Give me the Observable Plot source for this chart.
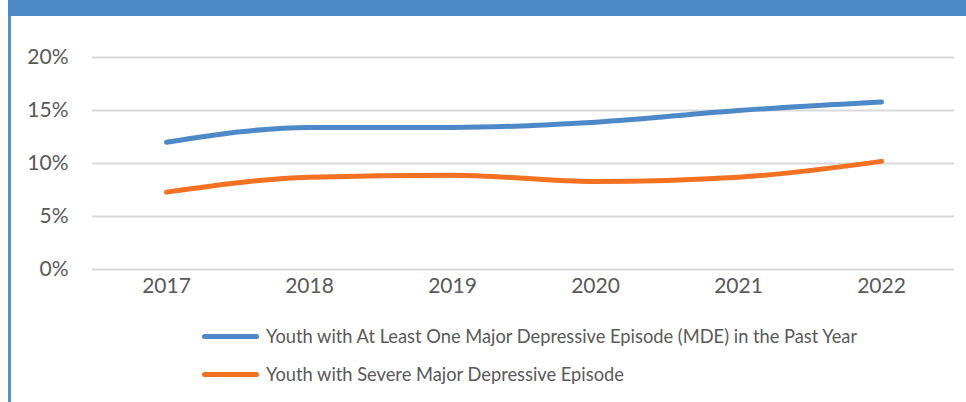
<!DOCTYPE html>
<html>
<head>
<meta charset="utf-8">
<script src="https://cdn.jsdelivr.net/npm/d3@7"></script>
<script src="https://cdn.jsdelivr.net/npm/@observablehq/plot@0.6"></script>
<style>
  html, body { margin: 0; padding: 0; background: #fff; }
  #wrap { position: relative; width: 966px; height: 402px; overflow: hidden; font-family: Lato, "Open Sans", sans-serif; }
  #band { position: absolute; left: 8px; top: 0; width: 958px; height: 16px; background: #4e89c7; }
  #side { position: absolute; left: 8px; top: 16px; width: 3px; height: 386px; background: #5490cf; }
  #chart { position: absolute; left: 0; top: 0; }
  .leg { position: absolute; left: 202px; display: flex; align-items: center; font-size: 18.3px; color: #595959; }
  .sw { width: 57px; height: 5px; border-radius: 3px; margin-right: 7px; }
</style>
</head>
<body>
<div id="wrap">
  <div id="band"></div>
  <div id="side"></div>
  <div id="chart"></div>
  <div id="legend"></div>
</div>
<script>
const years = ["2017", "2018", "2019", "2020", "2021", "2022"];
const mde = [12.0, 13.4, 13.4, 13.9, 15.0, 15.8];
const severe = [7.3, 8.7, 8.9, 8.3, 8.7, 10.2];
const seriesNames = [
  "Youth with At Least One Major Depressive Episode (MDE) in the Past Year",
  "Youth with Severe Major Depressive Episode"
];
const colors = ["#4d89c8", "#f47122"];
const yTicks = [0, 5, 10, 15, 20];

const rows = [];
years.forEach((y, i) => {
  rows.push({year: y, value: mde[i], series: seriesNames[0]});
  rows.push({year: y, value: severe[i], series: seriesNames[1]});
});

const plot = Plot.plot({
  width: 966,
  height: 300,
  marginLeft: 92,
  marginRight: 12,
  marginTop: 57,
  marginBottom: 31,
  style: {fontFamily: "Lato, 'Open Sans', sans-serif", fontSize: "21px", color: "#595959", background: "transparent", overflow: "visible"},
  x: {type: "point", domain: years, padding: 0.5, label: null},
  y: {domain: [0, 20], label: null},
  color: {domain: seriesNames, range: colors},
  marks: [
    Plot.ruleY(yTicks, {stroke: "#d9d9d9", strokeWidth: 2}),
    Plot.axisY(yTicks, {tickSize: 0, tickPadding: 24, tickFormat: d => d + "%", fill: "#595959", fontSize: 21}),
    Plot.axisX({tickSize: 0, tickPadding: 9, fill: "#595959", fontSize: 21}),
    Plot.line(rows, {x: "year", y: "value", z: "series", stroke: "series", strokeWidth: 5, curve: "monotone-x", strokeLinecap: "round", strokeLinejoin: "round"})
  ]
});
document.getElementById("chart").appendChild(plot);

const legend = document.getElementById("legend");
const legTops = [336, 374];
seriesNames.forEach((name, i) => {
  const d = document.createElement("div");
  d.className = "leg";
  d.style.top = (legTops[i] - 12) + "px";
  d.style.height = "24px";
  const sw = document.createElement("div");
  sw.className = "sw";
  sw.style.background = colors[i];
  const t = document.createElement("span");
  t.textContent = name;
  d.appendChild(sw);
  d.appendChild(t);
  legend.appendChild(d);
});
</script>
</body>
</html>
